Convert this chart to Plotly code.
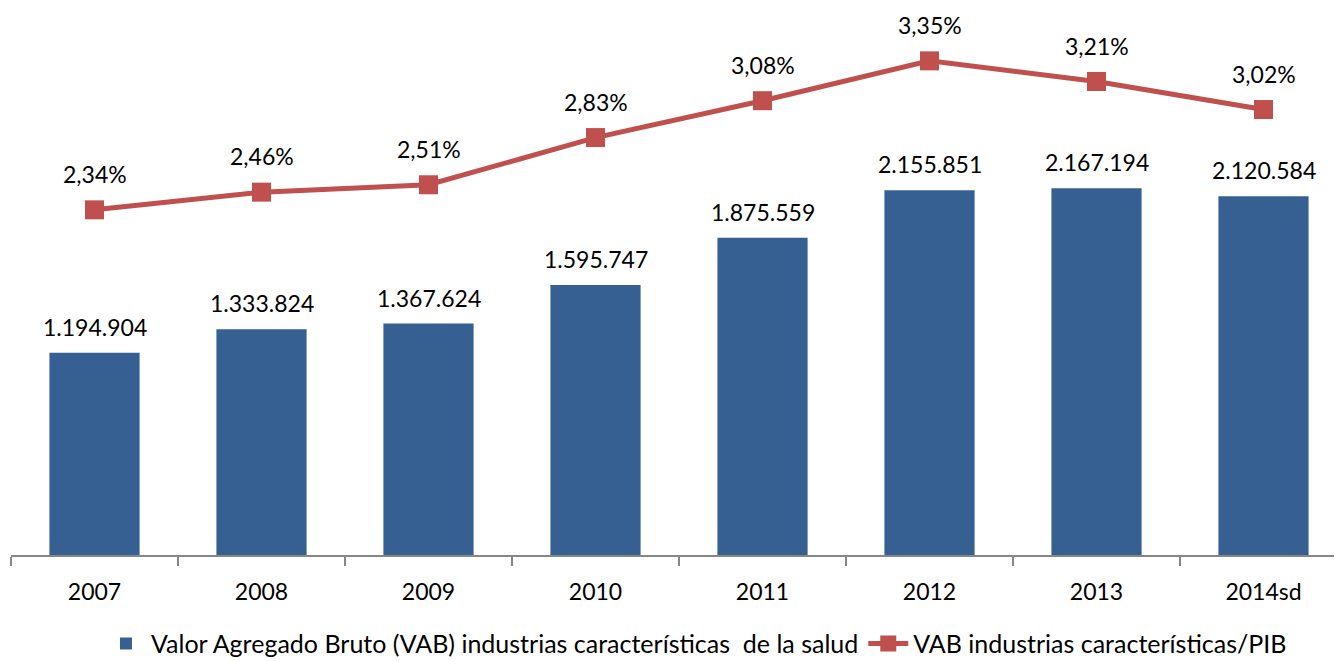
import plotly.graph_objects as go

years = ["2007", "2008", "2009", "2010", "2011", "2012", "2013", "2014sd"]
vab = [1194904, 1333824, 1367624, 1595747, 1875559, 2155851, 2167194, 2120584]
ratio_pct = [2.34, 2.46, 2.51, 2.83, 3.08, 3.35, 3.21, 3.02]

bar_name = "Valor Agregado Bruto (VAB) industrias características  de la salud"
line_name = "VAB industrias características/PIB"

def fmt_thousands(v):
    return f"{v:,}".replace(",", ".")

def fmt_pct(v):
    return f"{v:.2f}".replace(".", ",") + "%"

FONT = "Lato"
BLUE = "#376092"
RED = "#C0504D"

fig = go.Figure()
fig.add_trace(go.Bar(
    x=years, y=vab, name=bar_name,
    marker=dict(color=BLUE, line=dict(width=0)),
    width=0.54,
))
fig.add_trace(go.Scatter(
    x=years, y=ratio_pct, name=line_name, yaxis="y2",
    mode="lines+markers",
    line=dict(color=RED, width=5),
    marker=dict(symbol="square", size=19, color=RED),
    cliponaxis=False,
))

annotations = []
for i, v in enumerate(vab):
    annotations.append(dict(x=i, y=v, xref="x", yref="y", text=fmt_thousands(v),
                            showarrow=False, yshift=26, yanchor="middle",
                            font=dict(family=FONT, size=23, color="#000000")))
for i, v in enumerate(ratio_pct):
    annotations.append(dict(x=i, y=v, xref="x", yref="y2", text=fmt_pct(v),
                            showarrow=False, yshift=36, yanchor="middle",
                            font=dict(family=FONT, size=23, color="#000000")))

fig.update_layout(
    width=1334, height=653,
    margin=dict(l=3, r=0, t=12, b=106, autoexpand=False),
    paper_bgcolor="white", plot_bgcolor="white",
    font=dict(family=FONT, size=23, color="#000000"),
    showlegend=True,
    annotations=annotations,
    legend=dict(orientation="h", x=0.515, xanchor="center",
                y=-0.166, yanchor="middle", font=dict(family=FONT, size=25),
                itemwidth=40, traceorder="normal"),
    xaxis=dict(type="category", range=[-0.5, 7.47], showline=True,
               linecolor="#868686", linewidth=1.5, ticks="outside",
               tickson="boundaries", ticklen=9, tickcolor="#868686",
               tickwidth=1.5, showgrid=False, zeroline=False,
               ticklabelstandoff=16,
               tickfont=dict(family=FONT, size=23), automargin=False),
    yaxis=dict(range=[0, 3161850], visible=False, showgrid=False, zeroline=False),
    yaxis2=dict(range=[0, 3.627], overlaying="y", visible=False,
                showgrid=False, zeroline=False),
)

fig.write_html("out.html")
